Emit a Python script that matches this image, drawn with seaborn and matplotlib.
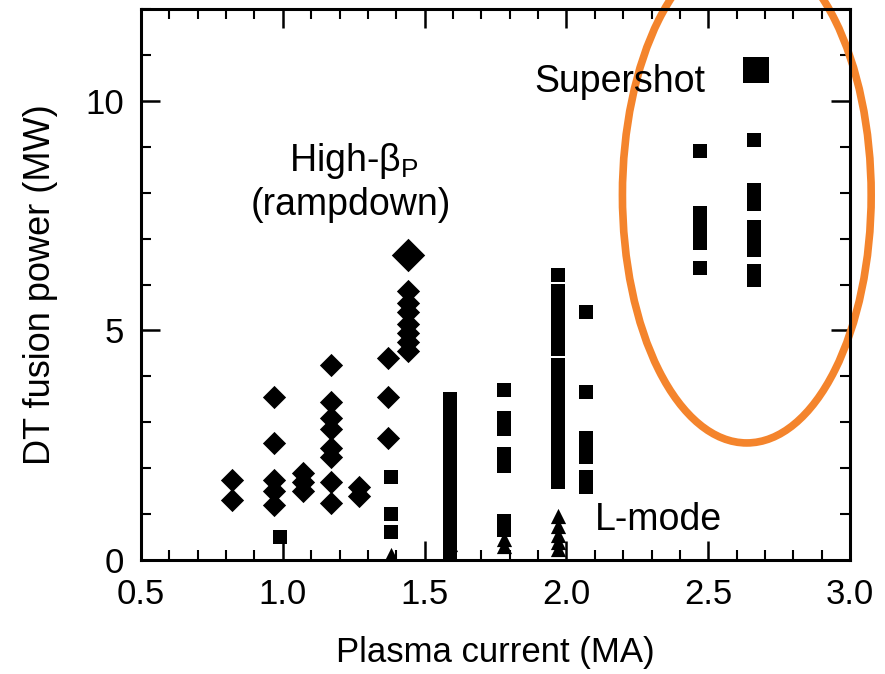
import matplotlib
matplotlib.use("Agg")
import matplotlib.pyplot as plt
from matplotlib.patches import Ellipse
from matplotlib.ticker import MultipleLocator
import seaborn as sns

# High-beta_p (rampdown) shots: diamonds
hbp_x = [0.82, 0.82,
         0.97, 0.97, 0.97, 0.97, 0.97,
         1.07, 1.07, 1.07,
         1.17, 1.17, 1.17, 1.17, 1.17, 1.17, 1.17, 1.17,
         1.27, 1.27,
         1.37, 1.37, 1.37,
         1.44, 1.44, 1.44, 1.44, 1.44, 1.44, 1.44]
hbp_y = [1.75, 1.3,
         3.55, 2.55, 1.75, 1.5, 1.2,
         1.9, 1.7, 1.5,
         4.25, 3.45, 3.1, 2.85, 2.45, 2.25, 1.7, 1.25,
         1.6, 1.4,
         4.4, 3.55, 2.65,
         5.85, 5.6, 5.4, 5.15, 4.95, 4.75, 4.55]
hbp_best_x = [1.44]
hbp_best_y = [6.65]

# Supershots: squares
ss_x = [0.99,
        1.38, 1.38, 1.38,
        1.59, 1.59, 1.59, 1.59, 1.59, 1.59, 1.59, 1.59, 1.59, 1.59, 1.59, 1.59,
        1.59, 1.59, 1.59, 1.59, 1.59, 1.59, 1.59, 1.59, 1.59, 1.59, 1.59, 1.59,
        1.78, 1.78, 1.78, 1.78, 1.78, 1.78, 1.78,
        1.97, 1.97, 1.97, 1.97, 1.97, 1.97, 1.97, 1.97, 1.97, 1.97, 1.97,
        1.97, 1.97, 1.97, 1.97, 1.97, 1.97, 1.97, 1.97, 1.97, 1.97, 1.97,
        2.07, 2.07, 2.07, 2.07, 2.07, 2.07, 2.07,
        2.47, 2.47, 2.47, 2.47, 2.47, 2.47,
        2.66, 2.66, 2.66, 2.66, 2.66, 2.66, 2.66, 2.66]
ss_y = [0.5,
        1.8, 1.0, 0.6,
        3.5, 3.3, 3.05, 2.9, 2.75, 2.6, 2.45, 2.3, 2.15, 2.0, 1.85, 1.7,
        1.55, 1.4, 1.25, 1.1, 0.95, 0.8, 0.65, 0.5, 0.35, 0.25, 0.15, 0.05,
        3.7, 3.1, 2.85, 2.3, 2.05, 0.85, 0.65,
        6.2, 5.85, 5.65, 5.45, 5.25, 5.0, 4.8, 4.6, 4.25, 4.05, 3.85,
        3.65, 3.45, 3.25, 3.0, 2.8, 2.6, 2.45, 2.25, 2.05, 1.85, 1.7,
        5.4, 3.65, 2.65, 2.45, 2.25, 1.8, 1.6,
        8.9, 7.55, 7.3, 7.1, 6.9, 6.35,
        9.15, 8.05, 7.75, 7.25, 7.0, 6.75, 6.3, 6.1]
ss_best_x = [2.67]
ss_best_y = [10.68]

# L-mode shots: triangles
lm_x = [1.38, 1.59, 1.59, 1.78, 1.78, 1.97, 1.97, 1.97, 1.97, 1.97]
lm_y = [0.12, 0.35, 0.15, 0.45, 0.3, 0.95, 0.75, 0.55, 0.4, 0.25]

sns.set_theme(style="ticks")
plt.rcParams["font.family"] = ["Liberation Sans", "DejaVu Sans"]
plt.rcParams.update({"text.color": "black", "axes.labelcolor": "black",
                     "xtick.color": "black", "ytick.color": "black",
                     "mathtext.default": "regular"})

FS = 25      # ticks and axis labels
FS_ANN = 27  # annotations inside the plot

fig = plt.figure(figsize=(8.85, 6.74), dpi=100)
ax = fig.add_axes([0.1593, 0.1691, 0.8012, 0.8175])

sns.scatterplot(x=hbp_x, y=hbp_y, marker="D", s=140, color="black", linewidth=0, ax=ax)
sns.scatterplot(x=hbp_best_x, y=hbp_best_y, marker="D", s=290, color="black", linewidth=0, ax=ax)
sns.scatterplot(x=ss_x, y=ss_y, marker="s", s=95, color="black", linewidth=0, ax=ax)
sns.scatterplot(x=ss_best_x, y=ss_best_y, marker="s", s=370, color="black", linewidth=0, ax=ax)
sns.scatterplot(x=lm_x, y=lm_y, marker="^", s=120, color="black", linewidth=0, ax=ax)

ax.set_xlim(0.5, 3.0)
ax.set_ylim(0, 12)
ax.set_xticks([0.5, 1.0, 1.5, 2.0, 2.5, 3.0])
ax.set_xticklabels(["0.5", "1.0", "1.5", "2.0", "2.5", "3.0"])
ax.set_yticks([0, 5, 10])
ax.xaxis.set_minor_locator(MultipleLocator(0.1))
ax.yaxis.set_minor_locator(MultipleLocator(1))
ax.tick_params(which="both", direction="in", top=True, right=True,
               color="black", labelsize=FS, labelcolor="black")
ax.tick_params(which="major", length=14, width=1.8)
ax.tick_params(which="minor", length=7, width=1.5)
ax.tick_params(axis="x", pad=13)
ax.tick_params(axis="y", pad=12)
for sp in ax.spines.values():
    sp.set_linewidth(2.2)
    sp.set_color("black")

ax.set_xlabel("Plasma current (MA)", fontsize=FS, labelpad=18)
ax.set_ylabel("DT fusion power (MW)", fontsize=26, labelpad=20)

ax.text(2.19, 10.4, "Supershot", fontsize=FS_ANN, ha="center", va="center")
ax.text(1.25, 8.7, "High-β$_{P}$", fontsize=FS_ANN, ha="center", va="center")
ax.text(1.24, 7.73, "(rampdown)", fontsize=FS_ANN, ha="center", va="center")
ax.text(2.1, 0.87, "L-mode", fontsize=FS_ANN, ha="left", va="center")

# orange highlight around the supershot group
ax.add_patch(Ellipse((2.636, 7.95), 0.877, 10.8, fill=False,
                     edgecolor="#F4842C", linewidth=5.5, clip_on=False))

fig.savefig("out.png", dpi=100)
